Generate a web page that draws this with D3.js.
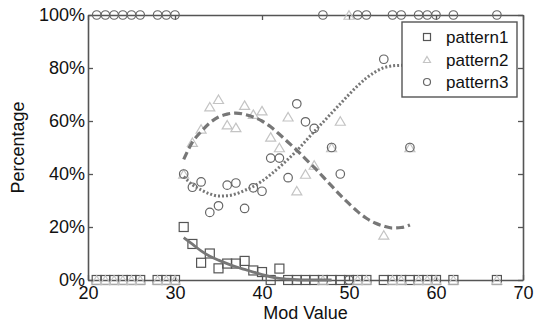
<!DOCTYPE html>
<html>
<head>
<meta charset="utf-8">
<script src="https://cdn.jsdelivr.net/npm/d3@7"></script>
<style>
  body { margin: 0; background: #fff; }
  text { font-family: "Liberation Sans", Arial, sans-serif; fill: #111; }
</style>
</head>
<body>
<div id="chart"></div>
<script>
// mod values present in the data
var modValues = [21,22,23,24,25,26,28,29,30,31,32,33,34,35,36,37,38,39,40,41,42,43,44,45,46,47,48,49,50,51,52,54,55,56,57,58,59,60,62,67];
var pattern1 = [0,0,0,0,0,0,0,0,0,20,13.6,6.5,10,4.4,6.2,6.2,7.2,3.6,3,0,4.3,0,0,0,0,0,0,0,0,0,0,0,0,0,0,0,0,0,0,0];
var pattern2 = [0,0,0,0,0,0,0,0,0,40,52,57,65.4,68.2,58.6,57.6,66,62.6,63.9,54,50,61.6,33.7,40,43.4,0,50,60,100,0,0,17,0,0,50,0,0,0,0,0];
var pattern3 = [100,100,100,100,100,100,100,100,100,40,35,37,25.5,28,35.8,36.6,27,34.8,33.5,46,46,38.6,66.5,59.7,57.2,100,50,40,0,100,100,83.3,100,100,50,100,100,100,100,100];

// fitted trend curves
var fit1X = [31,32,33,34,35,36,37,38,39,40,41,42,43,44,45,46,47,48];
var fit1Y = [16,13.5,11,9,7.5,6.2,5,4,3,2,1.2,0.6,0.3,0.1,0,0,0,0];
var fitX = [31,32,33,34,35,36,37,38,39,40,41,42,43,44,45,46,47,48,49,50,51,52,53,54,55,56,57];
var fit2Y = [45.5,52,56,59.3,61.5,62.6,63,62.5,61.5,60,57.8,55,52,49,45.7,42.5,39,35.5,32,28.8,25.8,23.3,21.5,20.3,19.6,19.8,20.8];
var fit3Y = [39,36,34,32.5,31.7,31.8,32.5,33.8,35.3,37.3,39.8,42.6,45.6,48.8,52.4,56,59.5,63,66.5,70,73.3,76.2,78.5,80.1,80.8,81,80.5];

var xTicks = [20,30,40,50,60,70];
var yTicks = [0,20,40,60,80,100];
var legendNames = ["pattern1","pattern2","pattern3"];

var W = 536, H = 324;
var margin = {top: 15, right: 13, bottom: 44, left: 88};

var svg = d3.select("#chart").append("svg")
  .attr("width", W).attr("height", H);

var x = d3.scaleLinear().domain([20,70]).range([margin.left, W - margin.right]);
var y = d3.scaleLinear().domain([0,100]).range([H - margin.bottom, margin.top]);

var axisColor = "#555";

// box axes with inward ticks
var gB = svg.append("g").attr("transform", "translate(0," + y(0) + ")")
  .call(d3.axisBottom(x).tickValues(xTicks).tickSize(-5).tickPadding(6).tickSizeOuter(0));
var gT = svg.append("g").attr("transform", "translate(0," + y(100) + ")")
  .call(d3.axisTop(x).tickValues(xTicks).tickSize(-5).tickFormat("").tickSizeOuter(0));
var gL = svg.append("g").attr("transform", "translate(" + x(20) + ",0)")
  .call(d3.axisLeft(y).tickValues(yTicks).tickSize(-5).tickPadding(3).tickSizeOuter(0)
    .tickFormat(function(d){ return d + "%"; }));
var gR = svg.append("g").attr("transform", "translate(" + x(70) + ",0)")
  .call(d3.axisRight(y).tickValues(yTicks).tickSize(-5).tickFormat("").tickSizeOuter(0));

[gB, gT, gL, gR].forEach(function(g){
  g.select(".domain").attr("stroke", axisColor).attr("stroke-width", 1.6);
  g.selectAll(".tick line").attr("stroke", axisColor).attr("stroke-width", 1.3);
  g.selectAll(".tick text").attr("font-size", 18).attr("fill", "#111")
    .style("font-family", "'Liberation Sans', Arial, sans-serif");
});

svg.append("text").attr("x", (x(20) + x(70)) / 2).attr("y", 319)
  .attr("text-anchor", "middle").attr("font-size", 18).text("Mod Value");
svg.append("text").attr("transform", "translate(24," + ((y(0) + y(100)) / 2) + ") rotate(-90)")
  .attr("text-anchor", "middle").attr("font-size", 18).text("Percentage");

var plot = svg.append("g");

// markers
function drawMarker(g, type, cx, cy, s, color) {
  if (type === "square") {
    g.append("rect").attr("x", cx - s/2).attr("y", cy - s/2).attr("width", s).attr("height", s)
      .attr("fill", "none").attr("stroke", color).attr("stroke-width", 1.2);
  } else if (type === "triangle") {
    var h = s * 0.85;
    g.append("path").attr("d", "M" + cx + "," + (cy - h/2) + "L" + (cx + s/2) + "," + (cy + h/2) + "L" + (cx - s/2) + "," + (cy + h/2) + "Z")
      .attr("fill", "none").attr("stroke", color).attr("stroke-width", 1.2);
  } else {
    g.append("circle").attr("cx", cx).attr("cy", cy).attr("r", s/2)
      .attr("fill", "none").attr("stroke", color).attr("stroke-width", 1.2);
  }
}

var series = [
  {values: pattern1, type: "square", color: "#555", size: 9},
  {values: pattern2, type: "triangle", color: "#c4c4c4", size: 10},
  {values: pattern3, type: "circle", color: "#666", size: 8.5}
];

series.forEach(function(s){
  modValues.forEach(function(m, i){
    drawMarker(plot, s.type, x(m), y(s.values[i]), s.size, s.color);
  });
});

// trend curves
var line = d3.line().x(function(d){ return x(d[0]); }).y(function(d){ return y(d[1]); }).curve(d3.curveMonotoneX);

plot.append("path").datum(d3.zip(fit1X, fit1Y)).attr("d", line)
  .attr("fill", "none").attr("stroke", "#777").attr("stroke-width", 2.8);
plot.append("path").datum(d3.zip(fitX, fit2Y)).attr("d", line)
  .attr("fill", "none").attr("stroke", "#777").attr("stroke-width", 3.2).attr("stroke-dasharray", "8,4");
plot.append("path").datum(d3.zip(fitX, fit3Y)).attr("d", line)
  .attr("fill", "none").attr("stroke", "#777").attr("stroke-width", 3).attr("stroke-dasharray", "2,2");

// legend
var lg = svg.append("g");
lg.append("rect").attr("x", 402).attr("y", 22).attr("width", 115).attr("height", 75)
  .attr("fill", "#fff").attr("stroke", axisColor).attr("stroke-width", 1.4);
legendNames.forEach(function(n, i){
  var cy = 37 + i * 22.5;
  drawMarker(lg, series[i].type, 427, cy, 7, series[i].color);
  lg.append("text").attr("x", 446).attr("y", cy + 6).attr("font-size", 17).text(n);
});
</script>
</body>
</html>
